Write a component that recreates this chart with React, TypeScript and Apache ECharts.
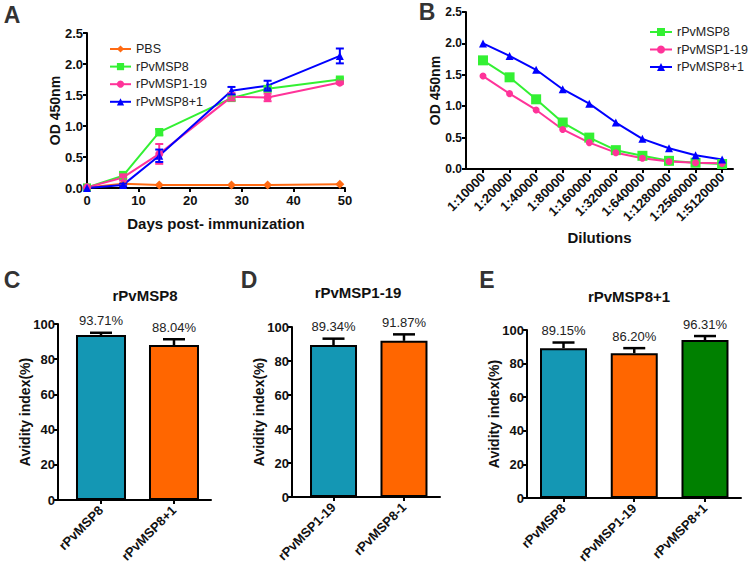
import React, { useEffect, useRef } from "react";
import * as echarts from "echarts";

const FONT = '"Liberation Sans", Arial, sans-serif';

// Panel A
const daysA = [0, 7, 14, 28, 35, 49];
const pbsA = [0.01, 0.07, 0.05, 0.05, 0.05, 0.06];
const msp8A = [0.01, 0.2, 0.9, 1.45, 1.6, 1.75];
const msp119A = [0.01, 0.17, 0.55, 1.47, 1.46, 1.7];
const msp81A = [0.0, 0.05, 0.52, 1.57, 1.65, 2.13];
const msp8ErrA = [0, 0.06, 0.05, 0.04, 0.04, 0.02];
const msp119ErrA = [0, 0.05, 0.16, 0.06, 0.06, 0.02];
const msp81ErrA = [0, 0.02, 0.1, 0.06, 0.08, 0.12];

// Panel B
const dilutions = ["1:10000", "1:20000", "1:40000", "1:80000", "1:160000", "1:320000", "1:640000", "1:1280000", "1:2560000", "1:5120000"];
const msp8B = [1.73, 1.46, 1.11, 0.74, 0.5, 0.3, 0.21, 0.13, 0.1, 0.08];
const msp119B = [1.48, 1.2, 0.94, 0.63, 0.42, 0.26, 0.17, 0.12, 0.1, 0.09];
const msp81B = [2.0, 1.8, 1.58, 1.27, 1.04, 0.74, 0.48, 0.33, 0.22, 0.15];

// Panel C
const catsC = ["rPvMSP8", "rPvMSP8+1"];
const valsC = [93.71, 88.04];
const errC = [1.3, 3.3];
const labelsC = ["93.71%", "88.04%"];
// Panel D
const catsD = ["rPvMSP1-19", "rPvMSP8-1"];
const valsD = [89.34, 91.87];
const errD = [3.8, 3.8];
const labelsD = ["89.34%", "91.87%"];
// Panel E
const catsE = ["rPvMSP8", "rPvMSP1-19", "rPvMSP8+1"];
const valsE = [89.15, 86.2, 94.0];
const errE = [3.4, 3.0, 2.4];
const labelsE = ["89.15%", "86.20%", "96.31%"];

const TEAL = "#1497B4";
const ORANGE = "#FF6600";
const DGREEN = "#008000";
const C_PBS = "#FF6A13";
const C_G = "#33F033";
const C_P = "#FF3399";
const C_B = "#0000FF";

const axisLine = { onZero: false, lineStyle: { color: "#000", width: 2 } };
const axisTick = { show: true, length: 4, lineStyle: { color: "#000", width: 2 } };

function errLineSeries(name: string, xi: number, xs: number[], ys: number[], es: number[], color: string) {
  return {
    type: "custom",
    name,
    xAxisIndex: xi,
    yAxisIndex: xi,
    z: 4,
    clip: false,
    encode: { x: 0, y: 1 },
    data: xs.map((x, i) => [x, ys[i], es[i]]),
    renderItem: (params: any, api: any) => {
      const x = api.value(0), y = api.value(1), e = api.value(2);
      if (!e) return { type: "group", children: [] };
      const t = api.coord([x, y + e]);
      const b = api.coord([x, y - e]);
      const w = 4;
      const st = { stroke: color, lineWidth: 2 };
      return {
        type: "group",
        children: [
          { type: "line", shape: { x1: t[0], y1: t[1], x2: b[0], y2: b[1] }, style: st },
          { type: "line", shape: { x1: t[0] - w, y1: t[1], x2: t[0] + w, y2: t[1] }, style: st },
          { type: "line", shape: { x1: b[0] - w, y1: b[1], x2: b[0] + w, y2: b[1] }, style: st },
        ],
      };
    },
  };
}

function barSeries(idx: number, vals: number[], colors: string[], width: number) {
  return {
    type: "bar",
    name: "bar" + idx,
    xAxisIndex: idx,
    yAxisIndex: idx,
    barWidth: width,
    z: 2,
    data: vals.map((v, i) => ({ value: [i, v], itemStyle: { color: colors[i] } })),
    itemStyle: { borderColor: "#000", borderWidth: 2 },
  };
}

function barErrSeries(idx: number, vals: number[], errs: number[], labels: string[]) {
  return {
    type: "custom",
    name: "err" + idx,
    xAxisIndex: idx,
    yAxisIndex: idx,
    z: 5,
    clip: false,
    encode: { x: 0, y: 1 },
    data: vals.map((v, i) => [i, v, errs[i]]),
    renderItem: (params: any, api: any) => {
      const x = api.value(0), v = api.value(1), e = api.value(2);
      const b = api.coord([x, v]);
      const t = api.coord([x, v + e]);
      const w = 11;
      const st = { stroke: "#000", lineWidth: 2.5 };
      return {
        type: "group",
        children: [
          { type: "line", shape: { x1: b[0], y1: b[1], x2: t[0], y2: t[1] }, style: st },
          { type: "line", shape: { x1: t[0] - w, y1: t[1], x2: t[0] + w, y2: t[1] }, style: st },
          {
            type: "text",
            style: {
              text: labels[params.dataIndex],
              x: t[0],
              y: t[1] - 12,
              align: "center",
              verticalAlign: "middle",
              font: `13px ${FONT}`,
              fill: "#222",
            },
          },
        ],
      };
    },
  };
}

function barXAxis(idx: number, min: number, max: number, cats: string[]) {
  const vals = cats.map((_, i) => i);
  return {
    type: "value",
    gridIndex: idx,
    min,
    max,
    splitLine: { show: false },
    axisLine,
    axisTick: { ...axisTick, customValues: vals },
    axisLabel: {
      customValues: vals,
      formatter: (v: number) => cats[Math.round(v)] ?? "",
      rotate: 45,
      fontSize: 13,
      fontWeight: "bold",
      fontFamily: FONT,
      color: "#111",
      margin: 8,
    },
  };
}

function barYAxis(idx: number) {
  return {
    type: "value",
    gridIndex: idx,
    min: 0,
    max: 100,
    interval: 20,
    splitLine: { show: false },
    axisLine: { show: true, ...axisLine },
    axisTick,
    axisLabel: { fontSize: 13, fontWeight: "bold", fontFamily: FONT, color: "#111", margin: 3 },
    name: "Avidity index(%)",
    nameLocation: "middle",
    nameGap: 26,
    nameMoveOverlap: false,
    nameTextStyle: { fontSize: 14, fontWeight: "bold", fontFamily: FONT, color: "#111" },
  };
}

function letter(t: string, x: number, y: number) {
  return {
    type: "text",
    x,
    y,
    style: { text: t, font: `bold 23px ${FONT}`, fill: "#333", align: "center", verticalAlign: "middle" },
  };
}
function titleText(t: string, x: number, y: number) {
  return {
    type: "text",
    x,
    y,
    style: { text: t, font: `bold 15px ${FONT}`, fill: "#111", align: "center", verticalAlign: "middle" },
  };
}

export default function App() {
  const ref = useRef<HTMLDivElement>(null);
  useEffect(() => {
    if (!ref.current) return;
    const chart = echarts.init(ref.current, undefined, { renderer: "svg" });
    const tickLabel = { fontSize: 13, fontWeight: "bold", fontFamily: FONT, color: "#111" };
    const nameStyle = { fontSize: 14, fontWeight: "bold", fontFamily: FONT, color: "#111" };
    const legendText = { fontSize: 12.5, fontFamily: FONT, color: "#222", lineHeight: 14 };
    const option: any = {
      animation: false,
      backgroundColor: "#fff",
      textStyle: { fontFamily: FONT },
      grid: [
        { left: 87, top: 33, width: 258, height: 155 },
        { left: 466, top: 12, width: 267, height: 157 },
        { left: 58, top: 324, width: 153, height: 176 },
        { left: 292, top: 327, width: 148, height: 170 },
        { left: 527, top: 330, width: 214, height: 168 },
      ],
      xAxis: [
        {
          type: "value",
          gridIndex: 0,
          min: 0,
          max: 50,
          interval: 10,
          splitLine: { show: false },
          axisLine,
          axisTick,
          axisLabel: { ...tickLabel, margin: 6 },
          name: "Days post- immunization",
          nameLocation: "middle",
          nameGap: 28,
          nameMoveOverlap: false,
          nameTextStyle: { ...nameStyle, fontSize: 15 },
        },
        {
          type: "value",
          gridIndex: 1,
          min: -0.64,
          max: 9.41,
          splitLine: { show: false },
          axisLine,
          axisTick: { ...axisTick, customValues: dilutions.map((_, i) => i) },
          axisLabel: {
            customValues: dilutions.map((_, i) => i),
            formatter: (v: number) => dilutions[Math.round(v)] ?? "",
            rotate: 45,
            fontSize: 13,
            fontWeight: "bold",
            fontFamily: FONT,
            color: "#111",
            margin: 6,
          },
          name: "Dilutions",
          nameLocation: "middle",
          nameGap: 61,
          nameMoveOverlap: false,
          nameTextStyle: { ...nameStyle, fontSize: 15 },
        },
        barXAxis(2, -0.589, 1.507, catsC),
        barXAxis(3, -0.589, 1.511, catsD),
        barXAxis(4, -0.516, 2.509, catsE),
      ],
      yAxis: [
        {
          type: "value",
          gridIndex: 0,
          min: 0,
          max: 2.5,
          interval: 0.5,
          splitLine: { show: false },
          axisLine: { show: true, ...axisLine },
          axisTick,
          axisLabel: { ...tickLabel, margin: 4, formatter: (v: number) => v.toFixed(1) },
          name: "OD 450nm",
          nameLocation: "middle",
          nameGap: 25,
          nameMoveOverlap: false,
          nameTextStyle: nameStyle,
        },
        {
          type: "value",
          gridIndex: 1,
          min: 0,
          max: 2.5,
          interval: 0.5,
          splitLine: { show: false },
          axisLine: { show: true, ...axisLine },
          axisTick,
          axisLabel: { ...tickLabel, fontSize: 12, margin: 4, formatter: (v: number) => v.toFixed(1) },
          name: "OD 450nm",
          nameLocation: "middle",
          nameGap: 24,
          nameMoveOverlap: false,
          nameTextStyle: nameStyle,
        },
        barYAxis(2),
        barYAxis(3),
        barYAxis(4),
      ],
      legend: [
        {
          orient: "vertical",
          left: 109,
          top: 42,
          padding: 0,
          itemWidth: 21,
          itemHeight: 9,
          itemGap: 3.6,
          textStyle: legendText,
          data: ["PBS", "rPvMSP8", "rPvMSP1-19", "rPvMSP8+1"],
          selectedMode: false,
        },
        {
          orient: "vertical",
          left: 649,
          top: 25,
          padding: 0,
          itemWidth: 22,
          itemHeight: 10,
          itemGap: 3.5,
          textStyle: legendText,
          data: ["rPvMSP8", "rPvMSP1-19", "rPvMSP8+1"],
          selectedMode: false,
        },
      ],
      series: [
        {
          type: "line", name: "PBS", xAxisIndex: 0, yAxisIndex: 0, color: C_PBS,
          symbol: "diamond", symbolSize: 9, lineStyle: { width: 2 },
          data: daysA.map((d, i) => [d, pbsA[i]]),
        },
        {
          type: "line", name: "rPvMSP8", xAxisIndex: 0, yAxisIndex: 0, color: C_G,
          symbol: "rect", symbolSize: 8, lineStyle: { width: 2 },
          data: daysA.map((d, i) => [d, msp8A[i]]),
        },
        {
          type: "line", name: "rPvMSP1-19", xAxisIndex: 0, yAxisIndex: 0, color: C_P,
          symbol: "circle", symbolSize: 8, lineStyle: { width: 2 },
          data: daysA.map((d, i) => [d, msp119A[i]]),
        },
        {
          type: "line", name: "rPvMSP8+1", xAxisIndex: 0, yAxisIndex: 0, color: C_B,
          symbol: "triangle", symbolSize: 8, lineStyle: { width: 2 },
          data: daysA.map((d, i) => [d, msp81A[i]]),
        },
        errLineSeries("eA1", 0, daysA, msp8A, msp8ErrA, C_G),
        errLineSeries("eA2", 0, daysA, msp119A, msp119ErrA, C_P),
        errLineSeries("eA3", 0, daysA, msp81A, msp81ErrA, C_B),
        {
          type: "line", name: "rPvMSP8", xAxisIndex: 1, yAxisIndex: 1, color: C_G,
          symbol: "rect", symbolSize: 10, lineStyle: { width: 2 },
          data: msp8B.map((v, i) => [i, v]),
        },
        {
          type: "line", name: "rPvMSP1-19", xAxisIndex: 1, yAxisIndex: 1, color: C_P,
          symbol: "circle", symbolSize: 7, lineStyle: { width: 2 },
          data: msp119B.map((v, i) => [i, v]),
        },
        {
          type: "line", name: "rPvMSP8+1", xAxisIndex: 1, yAxisIndex: 1, color: C_B,
          symbol: "triangle", symbolSize: 8, lineStyle: { width: 2 },
          data: msp81B.map((v, i) => [i, v]),
        },
        barSeries(2, valsC, [TEAL, ORANGE], 50),
        barErrSeries(2, valsC, errC, labelsC),
        barSeries(3, valsD, [TEAL, ORANGE], 47),
        barErrSeries(3, valsD, errD, labelsD),
        barSeries(4, valsE, [TEAL, ORANGE, DGREEN], 47),
        barErrSeries(4, valsE, errE, labelsE),
      ],
      graphic: [
        letter("A", 12, 15),
        letter("B", 427, 12),
        letter("C", 12, 280),
        letter("D", 249, 280),
        letter("E", 487, 280),
        titleText("rPvMSP8", 145, 295),
        titleText("rPvMSP1-19", 358, 292),
        titleText("rPvMSP8+1", 629, 296),
      ],
    };
    chart.setOption(option);
    return () => chart.dispose();
  }, []);
  return <div ref={ref} style={{ position: "fixed", left: 0, top: 0, width: 750, height: 572 }} />;
}
